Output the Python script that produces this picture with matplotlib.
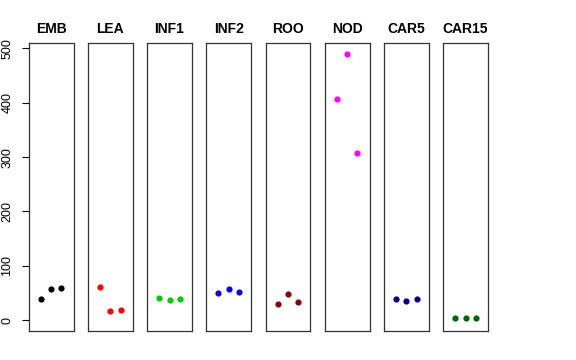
import matplotlib.pyplot as plt

plt.rcParams['font.family'] = ['Liberation Sans', 'DejaVu Sans']

# panel names, colours and the three values per panel
groups = ["EMB", "LEA", "INF1", "INF2", "ROO", "NOD", "CAR5", "CAR15"]
colors = ["black", "red", "#00CD00", "blue", "#8B0000", "magenta", "#00008B", "#006400"]
emb = [38.6, 57.5, 59.3]
lea = [61.7, 16.5, 18.4]
inf1 = [40.4, 36.7, 39.1]
inf2 = [50.7, 57.5, 52.5]
roo = [30.5, 47.8, 34.2]
nod = [406.5, 489.7, 306.8]
car5 = [38.6, 35.5, 39.1]
car15 = [4.8, 4.6, 4.8]
values = [emb, lea, inf1, inf2, roo, nod, car5, car15]
xpos = [1, 2, 3]
yticks = [0, 100, 200, 300, 400, 500]

W, H = 576, 360
fig = plt.figure(figsize=(W / 100, H / 100), dpi=100)

left0 = 28.7
step = 59.2
pw = 44.8
top, bottom = 43, 331

for i, (name, col, vals) in enumerate(zip(groups, colors, values)):
    x0 = left0 + i * step
    ax = fig.add_axes([x0 / W, 1 - bottom / H, pw / W, (bottom - top) / H])
    ax.scatter(xpos, vals, s=20, color=col, zorder=3, linewidths=0)
    ax.set_xlim(-0.16, 4.16)
    ax.set_ylim(-19.6, 509.6)
    ax.set_xticks([])
    ax.set_title(name, fontsize=10, fontweight='bold', pad=7)
    for sp in ax.spines.values():
        sp.set_linewidth(0.9)
        sp.set_color('#333333')
    if i == 0:
        ax.set_yticks(yticks)
        ax.tick_params(axis='y', length=5, width=0.8, pad=6, labelsize=9)
        for lab in ax.get_yticklabels():
            lab.set_rotation(90)
            lab.set_va('center')
    else:
        ax.set_yticks([])

fig.savefig("out.png", dpi=100)
